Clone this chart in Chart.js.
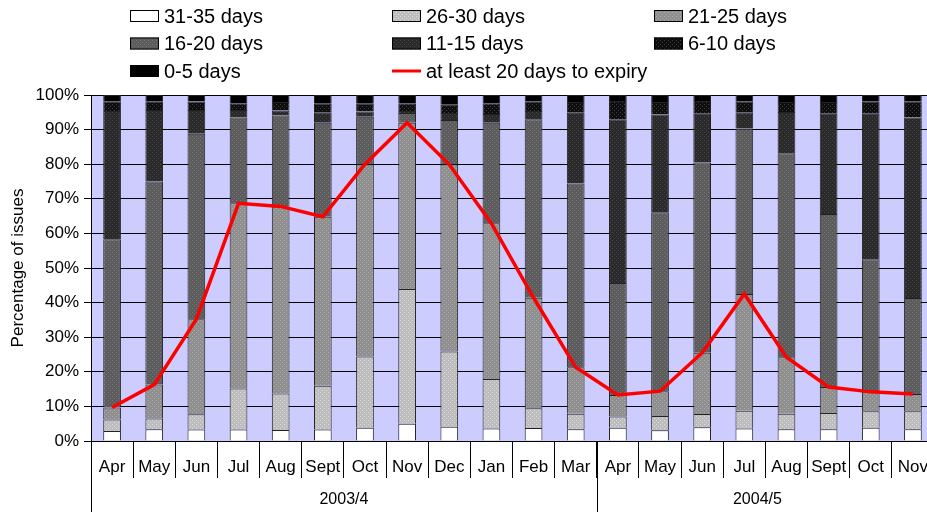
<!DOCTYPE html>
<html>
<head>
<meta charset="utf-8">
<script src="https://cdn.jsdelivr.net/npm/chart.js@4"></script>
<style>
  html, body { margin: 0; padding: 0; overflow: hidden; background: #fff; }
  #wrap { width: 934px; height: 512px; position: relative; }
</style>
</head>
<body>
<div id="wrap"><canvas id="myChart"></canvas></div>
<script>
// categorias
var meses = ['Apr', 'May', 'Jun', 'Jul', 'Aug', 'Sept', 'Oct', 'Nov', 'Dec', 'Jan', 'Feb', 'Mar',
             'Apr', 'May', 'Jun', 'Jul', 'Aug', 'Sept', 'Oct', 'Nov'];
var grupos = ['2003/4', '2004/5'];
var tamGrupos = [12, 8];
var ticksY = [0, 10, 20, 30, 40, 50, 60, 70, 80, 90, 100];

// % of issues in each band (bottom to top of the stack)
var d31a35 = [2.9, 3.4, 3.3, 3.3, 3.2, 3.3, 3.8, 5.0, 4.1, 3.6, 3.75, 3.4, 3.8, 3.1, 4.0, 3.6, 3.4, 3.4, 3.8, 3.4];
var d26a30 = [3.3, 3.1, 4.4, 11.9, 10.5, 12.7, 20.6, 38.9, 21.8, 14.3, 5.75, 4.5, 3.3, 4.1, 3.8, 5.15, 4.5, 4.7, 4.8, 5.2];
var d21a25 = [3.5, 9.8, 27.5, 53.5, 54.1, 48.8, 55.5, 48.1, 54.0, 45.0, 31.9, 13.4, 6.2, 7.2, 17.7, 33.75, 16.3, 7.5, 5.6, 5.0];
var d16a20 = [48.6, 58.7, 53.6, 24.8, 26.3, 27.2, 13.85, 2.8, 12.9, 29.1, 51.6, 53.1, 32.4, 51.7, 55.0, 47.8, 59.0, 50.0, 38.3, 27.7];
var d11a15 = [37.1, 20.7, 6.9, 2.2, 1.4, 3.0, 1.45, 0.6, 2.0, 2.5, 2.4, 20.5, 47.3, 28.3, 14.1, 4.7, 11.9, 29.0, 42.1, 52.2];
var d6a10 = [2.8, 2.5, 2.4, 1.9, 2.5, 2.5, 2.3, 2.2, 2.4, 3.1, 2.8, 3.1, 5.3, 3.6, 3.7, 3.2, 2.9, 3.4, 3.6, 4.7];
var d0a5 = [1.8, 1.8, 1.9, 2.4, 2.0, 2.5, 2.5, 2.4, 2.8, 2.4, 1.8, 2.0, 1.7, 2.0, 1.7, 1.8, 2.0, 2.0, 1.8, 1.8];
var linha20 = [9.7, 16.3, 35.2, 68.7, 67.8, 64.8, 80.0, 92.0, 79.9, 62.9, 41.4, 21.3, 13.3, 14.4, 25.5, 42.5, 24.2, 15.6, 14.2, 13.6];

var fonte = "'Liberation Sans', Arial, sans-serif";

// little dotted fills like the old excel patterns
function textura(base, ponto) {
  var c = document.createElement('canvas');
  c.width = 4; c.height = 4;
  var g = c.getContext('2d');
  g.fillStyle = base;
  g.fillRect(0, 0, 4, 4);
  g.fillStyle = ponto;
  g.fillRect(0, 0, 1, 1);
  g.fillRect(2, 2, 1, 1);
  return g.createPattern(c, 'repeat');
}

var fundo = {
  id: 'fundo',
  beforeDraw: function (chart) {
    var a = chart.chartArea;
    var ctx = chart.ctx;
    ctx.save();
    ctx.fillStyle = '#CCCCFF';
    ctx.fillRect(a.left, a.top, a.right - a.left, a.bottom - a.top);
    ctx.restore();
  }
};

// year groups under the month labels
var anos = {
  id: 'anos',
  afterDraw: function (chart) {
    var xs = chart.scales.x;
    var ctx = chart.ctx;
    var w = (xs.right - xs.left) / meses.length;
    var ini = 0;
    ctx.save();
    ctx.strokeStyle = '#000';
    ctx.lineWidth = 1;
    ctx.fillStyle = '#000';
    ctx.font = '16px ' + fonte;
    ctx.textAlign = 'center';
    ctx.textBaseline = 'middle';
    for (var i = 0; i < grupos.length; i++) {
      var x0 = xs.left + ini * w;
      var x1 = Math.min(xs.left + (ini + tamGrupos[i]) * w, 918);
      ctx.beginPath();
      ctx.moveTo(Math.round(x0) + 0.5, xs.top);
      ctx.lineTo(Math.round(x0) + 0.5, chart.height);
      ctx.stroke();
      ctx.fillText(grupos[i], (x0 + x1) / 2, 500);
      ini += tamGrupos[i];
    }
    ctx.restore();
  }
};

// legend in three columns
var legenda = {
  id: 'legenda',
  afterDraw: function (chart) {
    var ctx = chart.ctx;
    var ds = chart.data.datasets;
    ctx.save();
    ctx.font = '20px ' + fonte;
    ctx.textBaseline = 'middle';
    ctx.textAlign = 'left';
    for (var i = 0; i < ds.length; i++) {
      var x = 130 + (i % 3) * 262;
      var y = 16 + Math.floor(i / 3) * 27.5;
      if (ds[i].type === 'line') {
        ctx.strokeStyle = ds[i].borderColor;
        ctx.lineWidth = 3;
        ctx.beginPath();
        ctx.moveTo(x, y);
        ctx.lineTo(x + 29, y);
        ctx.stroke();
      } else {
        ctx.fillStyle = ds[i].backgroundColor;
        ctx.fillRect(x, y - 6, 29, 12);
        ctx.strokeStyle = '#000';
        ctx.lineWidth = 1;
        ctx.strokeRect(x + 0.5, y - 5.5, 28, 11);
      }
      ctx.fillStyle = '#000';
      ctx.fillText(ds[i].label, x + 34, y + 1);
    }
    ctx.restore();
  }
};

function barra(nome, valores, cor) {
  return {
    type: 'bar',
    label: nome,
    data: valores,
    backgroundColor: cor,
    borderColor: '#222',
    borderWidth: 1,
    barPercentage: 0.42,
    categoryPercentage: 1,
    order: 1
  };
}

var ctx = document.getElementById('myChart').getContext('2d');
var myChart = new Chart(ctx, {
  data: {
    labels: meses,
    datasets: [
      barra('31-35 days', d31a35, '#ffffff'),
      barra('26-30 days', d26a30, textura('#bdbdbd', '#dcdcdc')),
      barra('21-25 days', d21a25, textura('#8f8f8f', '#acacac')),
      barra('16-20 days', d16a20, textura('#5c5c5c', '#787878')),
      barra('11-15 days', d11a15, textura('#2a2a2a', '#464646')),
      barra('6-10 days', d6a10, textura('#0e0e0e', '#404040')),
      barra('0-5 days', d0a5, '#000000'),
      {
        type: 'line',
        label: 'at least 20 days to expiry',
        data: linha20,
        stack: 'linha',
        borderColor: '#ff0000',
        borderWidth: 3.5,
        pointRadius: 0,
        tension: 0,
        fill: false,
        order: 0
      }
    ]
  },
  options: {
    responsive: true,
    maintainAspectRatio: false,
    animation: false,
    layout: { padding: { top: 95, left: 0, right: 0, bottom: 0 } },
    plugins: {
      legend: { display: false },
      tooltip: { enabled: false }
    },
    scales: {
      x: {
        stacked: true,
        offset: true,
        afterFit: function (s) { s.height = 71; },
        grid: { offset: true, drawOnChartArea: false, tickLength: 37, color: '#000' },
        border: { color: '#000' },
        ticks: {
          autoSkip: false,
          maxRotation: 0,
          padding: -21,
          color: '#000',
          font: { family: fonte, size: 17 }
        }
      },
      y: {
        stacked: true,
        min: 0,
        max: 100,
        afterFit: function (s) { s.width = 91; },
        afterBuildTicks: function (s) {
          s.ticks = ticksY.map(function (v) { return { value: v }; });
        },
        grid: { color: '#000', tickLength: 7 },
        border: { color: '#000' },
        ticks: {
          padding: 5,
          color: '#000',
          font: { family: fonte, size: 17 },
          callback: function (v) { return v + '%'; }
        },
        title: {
          display: true,
          text: 'Percentage of issues',
          color: '#000',
          padding: { top: 8, bottom: 4 },
          font: { family: fonte, size: 17 }
        }
      }
    }
  },
  plugins: [fundo, anos, legenda]
});
</script>
</body>
</html>
